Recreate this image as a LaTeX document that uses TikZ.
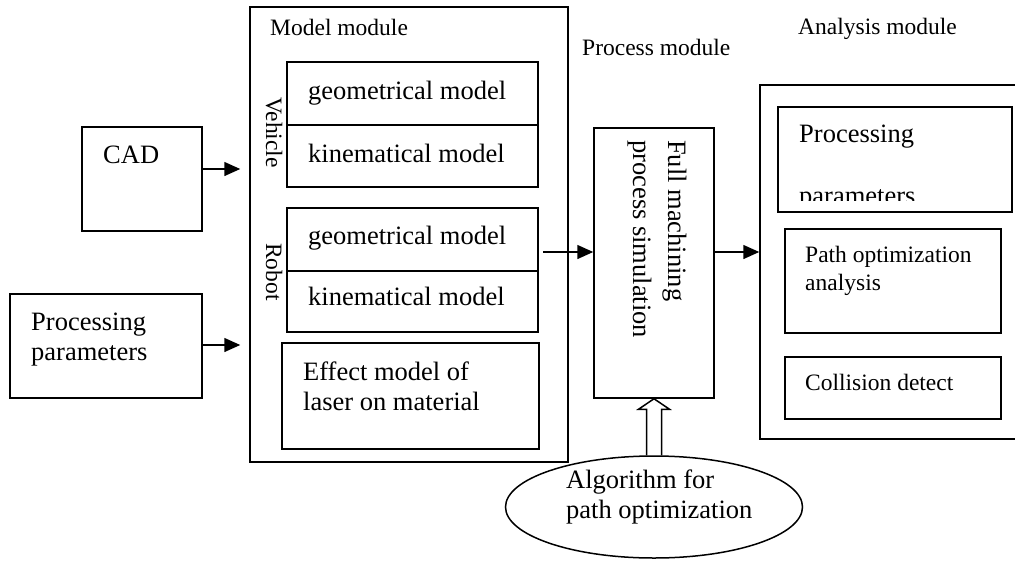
\documentclass[tikz,border=0pt]{standalone}
\usepackage{fontspec}
\setmainfont{Liberation Serif}
\usetikzlibrary{shapes.geometric,arrows.meta,calc}
\begin{document}
\begin{tikzpicture}[x=1pt,y=-1pt,
  box/.style={draw,line width=1.5pt,inner sep=0pt,rectangle},
  big/.style={inner sep=0pt,anchor=base west,font=\fontsize{26.5}{30}\selectfont},
  small/.style={inner sep=0pt,anchor=base west,font=\fontsize{23.5}{28}\selectfont},
  arr/.style={line width=1.5pt,-{Triangle[length=16pt,width=14pt]}}]
\clip (0,0) rectangle (1015,560);
% model module
\node[box,minimum width=318pt,minimum height=455pt] (model) at (409,234.5) {};
\node[small] (modellbl) at (270,35) {Model module};
\node[box,minimum width=251pt,minimum height=63pt] (vg) at (412.5,93.5) {};
\node[box,minimum width=251pt,minimum height=62pt] (vk) at (412.5,156) {};
\node[box,minimum width=251pt,minimum height=63pt] (rg) at (412.5,239.5) {};
\node[box,minimum width=251pt,minimum height=61pt] (rk) at (412.5,301.5) {};
\node[box,minimum width=257pt,minimum height=106pt] (eff) at (410.5,396) {};
\node[big] (vgt) at (308,99) {geometrical model};
\node[big] (vkt) at (308,162) {kinematical model};
\node[big] (rgt) at (308,244) {geometrical model};
\node[big] (rkt) at (308,305) {kinematical model};
\node[big] (eff1) at (303,380) {Effect model of};
\node[big] (eff2) at (303,410) {laser on material};
\node[small,rotate=-90] (veh) at (266,97) {Vehicle};
\node[small,rotate=-90] (rob) at (266,243) {Robot};
% inputs
\node[box,minimum width=120pt,minimum height=104pt] (cad) at (142,179) {};
\node[big] (cadt) at (103,163) {CAD};
\node[box,minimum width=192pt,minimum height=104pt] (pp) at (106,346) {};
\node[big] (pp1) at (31,330) {Processing};
\node[big] (pp2) at (31,360) {parameters};
\coordinate (ca) at (0,169);
\coordinate (pa) at (0,345);
\draw[arr,shorten >=9pt] (cad.east |- ca) -- (model.west |- ca);
\draw[arr,shorten >=9pt] (pp.east |- pa) -- (model.west |- pa);
% process module
\node[small] (proclbl) at (582,55) {Process module};
\node[box,minimum width=120pt,minimum height=270pt] (full) at (654,263) {};
\node[big,rotate=-90] (full1) at (668,140) {Full machining};
\node[big,rotate=-90] (full2) at (633,140) {process simulation};
\coordinate (rs) at (543,252);
\draw[arr] (rs) -- (rs -| full.west);
% analysis module
\node[small] (analbl) at (798,34) {Analysis module};
\node[box,minimum width=258pt,minimum height=354pt] (ana) at (889,262) {};
\draw[arr] (rs -| full.east) -- (rs -| ana.west);
\node[box,minimum width=234pt,minimum height=105pt] (app) at (895,159.5) {};
\begin{scope}
\clip (778,107) rectangle (1012,200);
\node[big] (app1) at (799,142) {Processing};
\node[big] (app2) at (799,204) {parameters};
\end{scope}
\node[box,minimum width=216pt,minimum height=104pt] (po) at (893,281) {};
\node[small] (po1) at (805,262) {Path optimization};
\node[small] (po2) at (805,290) {analysis};
\node[box,minimum width=216pt,minimum height=62pt] (cd) at (893,388) {};
\node[small] (cdt) at (805,390) {Collision detect};
% algorithm
\node[draw,ellipse,line width=1.5pt,inner sep=0pt,minimum width=297pt,minimum height=102pt] (algo) at (654,507) {};
\node[big] (al1) at (566,488) {Algorithm for};
\node[big] (al2) at (566,518) {path optimization};
\draw[line width=1.5pt,line join=miter]
  ([xshift=-7.5pt]algo.north) -- ([xshift=-7.5pt,yshift=46pt]algo.north)
  -- ([xshift=-15.5pt,yshift=46pt]algo.north) -- (full.south)
  -- ([xshift=15.5pt,yshift=46pt]algo.north) -- ([xshift=7.5pt,yshift=46pt]algo.north)
  -- ([xshift=7.5pt]algo.north);
\end{tikzpicture}
\end{document}
